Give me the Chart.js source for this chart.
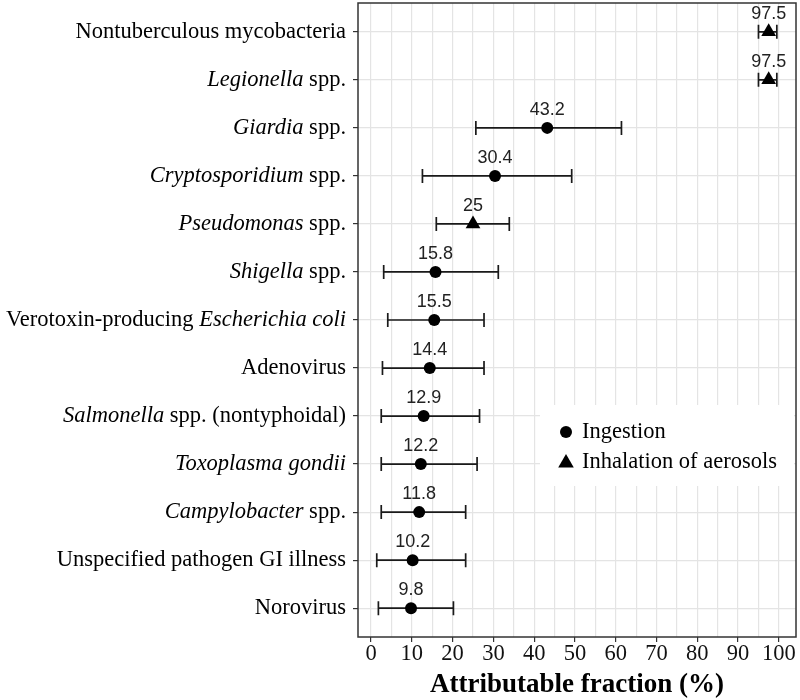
<!DOCTYPE html>
<html>
<head>
<meta charset="utf-8">
<script src="https://cdn.jsdelivr.net/npm/chart.js@4.4.1/dist/chart.umd.min.js"></script>
<style>
html, body { margin: 0; padding: 0; background: #fff; }
canvas { display: block; }
</style>
</head>
<body>
<canvas id="myChart" width="800" height="700"></canvas>
<script>
// pathogens from top to bottom, *...* marks the italic part
let pathogens = [
    'Nontuberculous mycobacteria',
    '*Legionella* spp.',
    '*Giardia* spp.',
    '*Cryptosporidium* spp.',
    '*Pseudomonas* spp.',
    '*Shigella* spp.',
    'Verotoxin-producing *Escherichia coli*',
    'Adenovirus',
    '*Salmonella* spp. (nontyphoidal)',
    '*Toxoplasma gondii*',
    '*Campylobacter* spp.',
    'Unspecified pathogen GI illness',
    'Norovirus'
];

let estimate = [97.5, 97.5, 43.2, 30.4, 25, 15.8, 15.5, 14.4, 12.9, 12.2, 11.8, 10.2, 9.8];
let lower = [95.0, 95.0, 25.7, 12.6, 16.0, 3.1, 4.1, 2.8, 2.5, 2.5, 2.5, 1.4, 1.8];
let upper = [99.5, 99.5, 61.4, 49.2, 33.9, 31.2, 27.7, 27.7, 26.6, 26.0, 23.2, 23.2, 20.2];

let routes = ['Ingestion', 'Inhalation of aerosols'];
let route = [1, 1, 0, 0, 1, 0, 0, 0, 0, 0, 0, 0, 0]; // index into routes

let xTicks = [0, 10, 20, 30, 40, 50, 60, 70, 80, 90, 100];

const serif = "'Liberation Serif', 'Times New Roman', serif";
const sans = "'Liberation Sans', Arial, sans-serif";

// grid lines every 5 (major + minor)
let gridSteps = [];
for (let v = 0; v <= 100; v += 5) gridSteps.push(v);

function pointsFor(r) {
    let pts = [];
    estimate.forEach((v, i) => { if (route[i] === r) pts.push({x: v, y: i}); });
    return pts;
}

function segments(label) {
    return label.split('*').map((t, i) => ({text: t, italic: i % 2 === 1})).filter(s => s.text.length);
}

function drawMarker(ctx, style, cx, cy, r) {
    ctx.beginPath();
    if (style === 'circle') {
        ctx.arc(cx, cy, r, 0, Math.PI * 2);
    } else {
        ctx.moveTo(cx, cy - r);
        ctx.lineTo(cx + r * 0.866, cy + r * 0.5);
        ctx.lineTo(cx - r * 0.866, cy + r * 0.5);
        ctx.closePath();
    }
    ctx.fill();
}

const legendBox = {left: 540, top: 405, right: 794, bottom: 486};

const forestPlugin = {
    id: 'forest',
    beforeDatasetsDraw(chart) {
        const {ctx, scales: {x, y}} = chart;
        // legend background hides the grid
        ctx.save();
        ctx.fillStyle = '#fff';
        ctx.fillRect(legendBox.left, legendBox.top, legendBox.right - legendBox.left, legendBox.bottom - legendBox.top);
        // error bars
        ctx.strokeStyle = '#1a1a1a';
        ctx.lineWidth = 1.7;
        estimate.forEach((v, i) => {
            const py = y.getPixelForValue(i);
            const x1 = x.getPixelForValue(lower[i]);
            const x2 = x.getPixelForValue(upper[i]);
            ctx.beginPath();
            ctx.moveTo(x1, py); ctx.lineTo(x2, py);
            ctx.moveTo(x1, py - 7); ctx.lineTo(x1, py + 7);
            ctx.moveTo(x2, py - 7); ctx.lineTo(x2, py + 7);
            ctx.stroke();
        });
        ctx.restore();
    },
    afterDatasetsDraw(chart) {
        const {ctx, scales: {x, y}} = chart;
        ctx.save();
        // value labels
        ctx.font = '18px ' + sans;
        ctx.fillStyle = '#222';
        ctx.textAlign = 'center';
        ctx.textBaseline = 'middle';
        estimate.forEach((v, i) => {
            ctx.fillText(String(v), x.getPixelForValue(v), y.getPixelForValue(i) - 18);
        });

        // pathogen labels with italic parts
        ctx.fillStyle = '#000';
        ctx.textAlign = 'left';
        pathogens.forEach((p, i) => {
            const segs = segments(p);
            let w = 0;
            segs.forEach(s => {
                ctx.font = (s.italic ? 'italic ' : '') + '22.5px ' + serif;
                s.w = ctx.measureText(s.text).width;
                w += s.w;
            });
            let px = chart.chartArea.left - 12 - w;
            const py = y.getPixelForValue(i);
            segs.forEach(s => {
                ctx.font = (s.italic ? 'italic ' : '') + '22.5px ' + serif;
                ctx.fillText(s.text, px, py);
                px += s.w;
            });
        });

        // legend
        const styles = ['circle', 'triangle'];
        ctx.font = '22.5px ' + serif;
        routes.forEach((r, k) => {
            const cy = 432 + k * 30;
            ctx.fillStyle = '#000';
            drawMarker(ctx, styles[k], 566, k ? cy + 1 : cy, k ? 9 : 6);
            ctx.fillText(r, 582, cy);
        });

        // panel border
        const a = chart.chartArea;
        ctx.strokeStyle = '#333';
        ctx.lineWidth = 1.5;
        ctx.strokeRect(a.left, a.top, a.right - a.left, a.bottom - a.top);
        ctx.restore();
    }
};

const chart = document.getElementById('myChart').getContext('2d');
const myChart = new Chart(chart, {
    type: 'scatter',
    data: {
        datasets: [{
            label: routes[0],
            data: pointsFor(0),
            pointStyle: 'circle',
            pointRadius: 6,
            backgroundColor: '#000',
            borderColor: '#000',
            borderWidth: 0
        }, {
            label: routes[1],
            data: pointsFor(1),
            pointStyle: 'triangle',
            pointRadius: 8.5,
            backgroundColor: '#000',
            borderColor: '#000',
            borderWidth: 0
        }]
    },
    options: {
        responsive: false,
        animation: false,
        layout: { autoPadding: false, padding: { top: 3, right: 4, left: 0, bottom: 0 } },
        plugins: {
            legend: { display: false },
            tooltip: { enabled: false }
        },
        scales: {
            x: {
                type: 'linear',
                min: -3.2,
                max: 104.2,
                afterBuildTicks: s => { s.ticks = gridSteps.map(v => ({value: v})); },
                afterFit: s => { s.height = 63; s.paddingLeft = 0; s.paddingRight = 0; },
                ticks: {
                    autoSkip: false,
                    maxRotation: 0,
                    padding: -1,
                    color: '#111',
                    font: { family: serif, size: 22.5 },
                    callback: v => xTicks.includes(v) ? String(v) : ''
                },
                grid: {
                    color: '#e4e4e4',
                    lineWidth: 1.2,
                    tickLength: 5,
                    tickColor: c => (c.tick && xTicks.includes(c.tick.value)) ? '#333' : 'rgba(0,0,0,0)'
                },
                border: { display: false },
                title: {
                    display: true,
                    text: 'Attributable fraction (%)',
                    color: '#000',
                    font: { family: serif, size: 27, weight: 'bold' },
                    padding: { top: 0, bottom: -1 }
                }
            },
            y: {
                type: 'linear',
                reverse: true,
                min: -0.6,
                max: 12.6,
                afterBuildTicks: s => { s.ticks = pathogens.map((p, i) => ({value: i})); },
                afterFit: s => { s.width = 358; s.paddingTop = 0; s.paddingBottom = 0; },
                ticks: { display: false },
                grid: {
                    color: '#e4e4e4',
                    lineWidth: 1.2,
                    tickLength: 5,
                    tickColor: '#333'
                },
                border: { display: false }
            }
        }
    },
    plugins: [forestPlugin]
});
</script>
</body>
</html>
